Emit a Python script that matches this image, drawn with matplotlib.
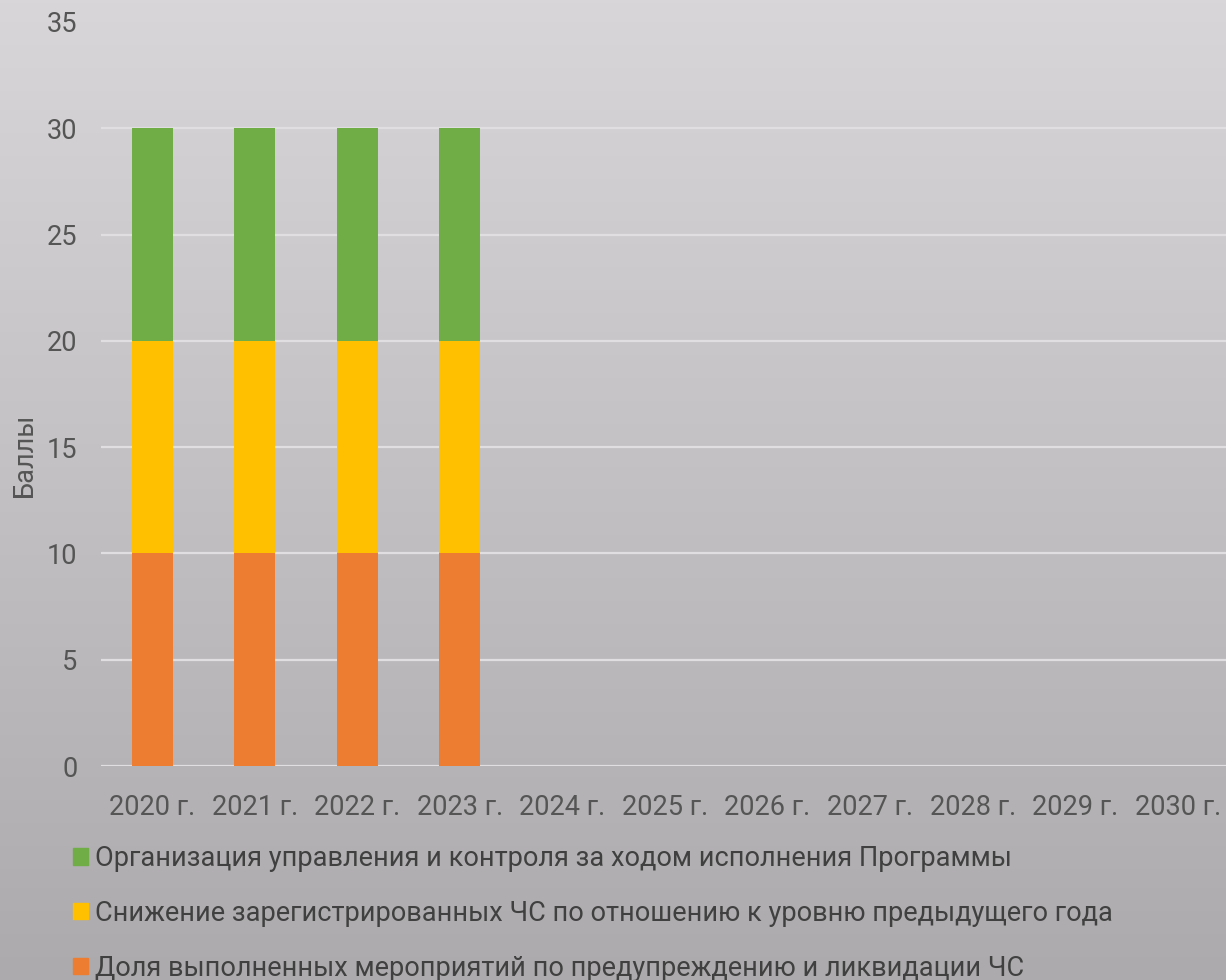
import numpy as np
import matplotlib
matplotlib.use("Agg")
import matplotlib.pyplot as plt
from matplotlib.patches import Patch

years = ["2020 г.", "2021 г.", "2022 г.", "2023 г.", "2024 г.", "2025 г.",
         "2026 г.", "2027 г.", "2028 г.", "2029 г.", "2030 г."]
dolya = [10, 10, 10, 10, 0, 0, 0, 0, 0, 0, 0]
snizhenie = [10, 10, 10, 10, 0, 0, 0, 0, 0, 0, 0]
organizaciya = [10, 10, 10, 10, 0, 0, 0, 0, 0, 0, 0]
series_names = [
    "Доля выполненных мероприятий по предупреждению и ликвидации ЧС",
    "Снижение зарегистрированных ЧС по отношению к уровню предыдущего года",
    "Организация управления и контроля за ходом исполнения Программы",
]
colors = ["#ED7D31", "#FFC000", "#70AD47"]
yticks = [0, 5, 10, 15, 20, 25, 30, 35]

plt.rcParams['font.family'] = ['Roboto', 'DejaVu Sans']

W, H = 1226, 980
fig = plt.figure(figsize=(W / 100, H / 100), dpi=100)

# background gradient
bg = fig.add_axes([0, 0, 1, 1], zorder=-10)
grad = np.linspace(0, 1, 256).reshape(-1, 1)
top = np.array([216, 214, 216]) / 255
bot = np.array([172, 170, 172]) / 255
img = top[None, None, :] * (1 - grad[:, :, None]) + bot[None, None, :] * grad[:, :, None]
bg.imshow(img, aspect='auto', extent=[0, 1, 0, 1], origin='upper')
bg.axis('off')

left = 101 / W
right = 1229 / W
bottom = (H - 766) / H
topy = (H - 22) / H
ax = fig.add_axes([left, bottom, right - left, topy - bottom])
ax.patch.set_alpha(0)

x = np.arange(len(years))
bw = 0.4
ax.bar(x, dolya, bw, color=colors[0], zorder=3)
ax.bar(x, snizhenie, bw, bottom=dolya, color=colors[1], zorder=3)
base3 = np.array(dolya) + np.array(snizhenie)
ax.bar(x, organizaciya, bw, bottom=base3, color=colors[2], zorder=3)

ax.set_xlim(-0.5, len(years) - 0.5)
ax.set_ylim(0, 35)
ax.set_yticks(yticks)
ax.set_xticks(x)
ax.set_xticklabels(years)
ax.yaxis.grid(True, color='#e0dee0', linewidth=1.6, zorder=1)
ax.get_ygridlines()[-1].set_visible(False)
ax.set_axisbelow(True)
for s in ax.spines.values():
    s.set_visible(False)
ax.tick_params(axis='both', length=0, labelsize=19.5, colors='#555555')
ax.tick_params(axis='y', pad=17)
ax.tick_params(axis='x', pad=20)
ax.set_ylabel("Баллы", fontsize=19.5, color='#555555')
ax.yaxis.set_label_coords(-63 / 1128, 0.418)

handles = [Patch(color=colors[2]), Patch(color=colors[1]), Patch(color=colors[0])]
labels = [series_names[2], series_names[1], series_names[0]]
fig.legend(handles, labels, loc='upper left', bbox_to_anchor=(73 / W, 1 - 845 / H),
           frameon=False, fontsize=19.5, labelcolor='#404040',
           handlelength=0.55, handleheight=0.55, handletextpad=0.25,
           labelspacing=1.03, borderpad=0, borderaxespad=0)

fig.savefig("out.png", dpi=100)
